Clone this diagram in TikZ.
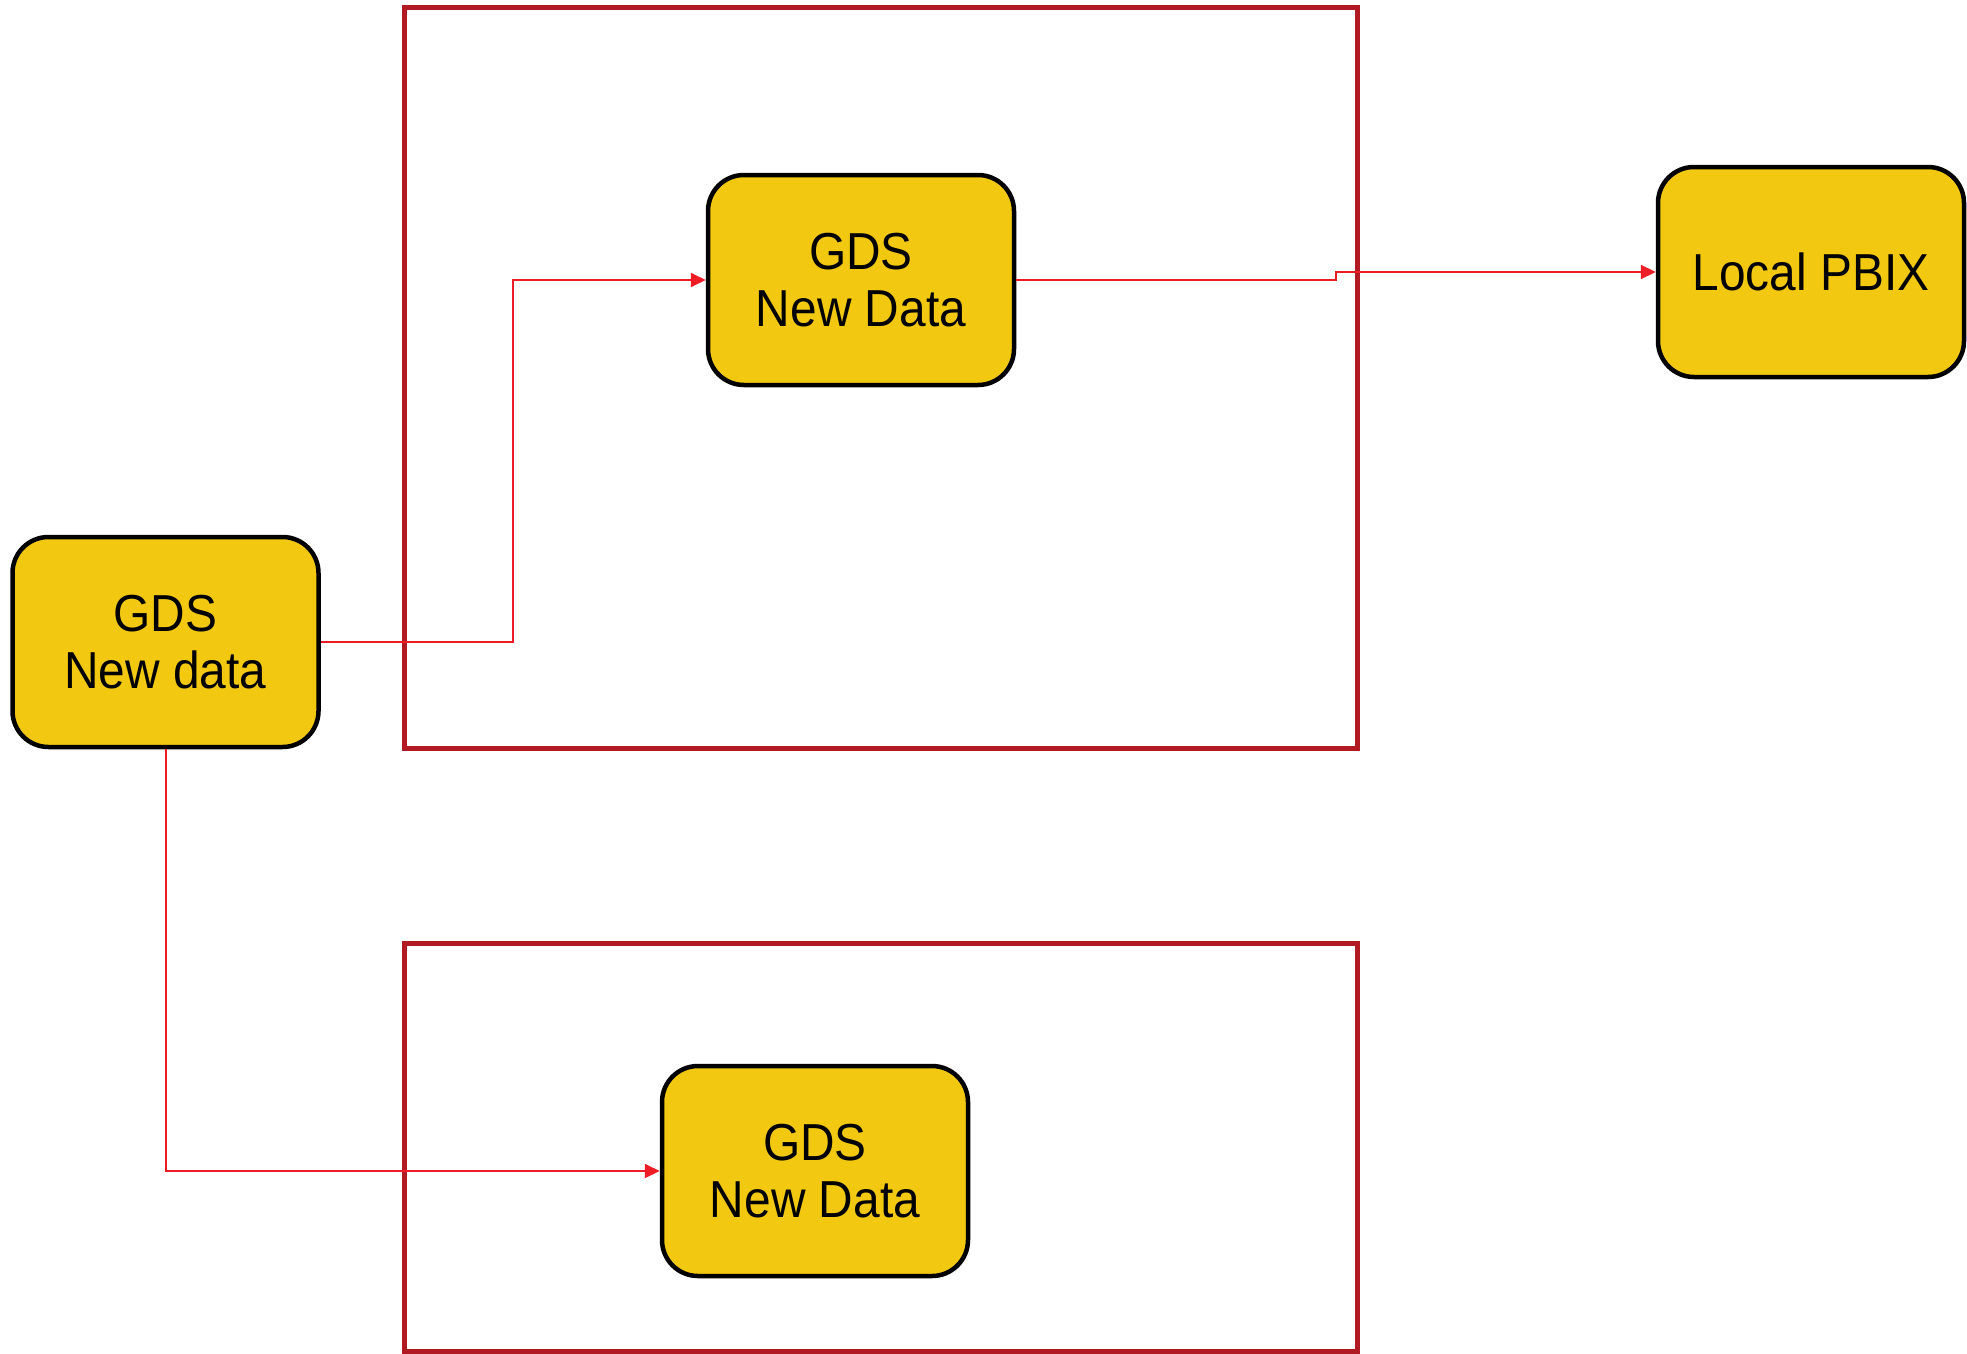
\documentclass[tikz,border=0pt]{standalone}
\usepackage{fontspec}
\newfontfamily\labfont[FakeStretch=0.92]{Liberation Sans}
\usetikzlibrary{arrows.meta}
\definecolor{pbiyellow}{HTML}{F2C811}
\definecolor{boxred}{HTML}{B21A23}
\definecolor{linkred}{HTML}{EE1D25}
\begin{document}
\begin{tikzpicture}[x=1pt,y=-1pt,
  datanode/.style={draw=black,line width=4.5pt,fill=pbiyellow,rounded corners=36pt,
    minimum width=306pt,minimum height=210pt,align=center,inner sep=0pt,
    font=\labfont\fontsize{52}{57}\selectfont},
  frame/.style={draw=boxred,line width=5pt},
  link/.style={draw=linkred,line width=2pt,-{Triangle[length=15pt,width=14pt]}}]
\useasboundingbox (0,0) rectangle (1967,1354);
\draw[frame] (404,7.5) rectangle (1357,748);
\draw[frame] (404,943) rectangle (1357,1351);
\node[datanode] (src) at (165.5,642) {GDS\\New data};
\node[datanode] (top) at (861,280) {GDS\\New Data};
\node[datanode] (pbix) at (1811,272) {Local PBIX};
\node[datanode] (bot) at (815,1171) {GDS\\New Data};
\draw[link] (src.east) -- ++(192,0) |- (top.west);
\draw[link] (top.east) -- ++(320,0) |- (pbix.west);
\draw[link] (src.south) |- (bot.west);
\end{tikzpicture}
\end{document}
